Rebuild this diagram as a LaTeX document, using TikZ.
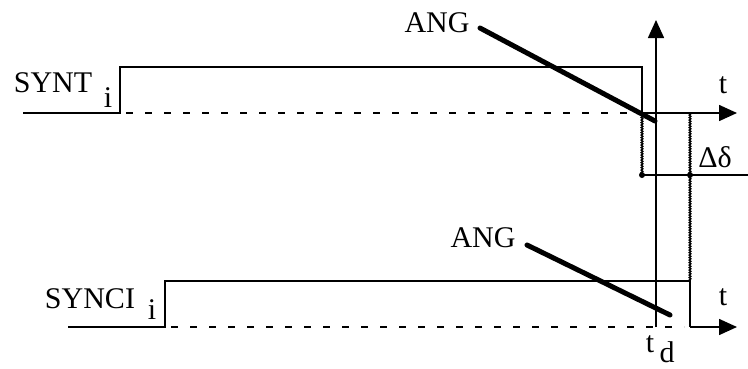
\documentclass[tikz,border=0pt]{standalone}
\usepackage{fontspec}
\setmainfont{Liberation Serif}
\usetikzlibrary{arrows.meta,decorations.pathmorphing}

\tikzset{
  signal/.style={line width=1.6pt},
  base/.style={line width=1.6pt, dash pattern=on 7pt off 12pt},
  edge/.style={line width=1.5pt, decorate,
    decoration={snake, amplitude=0.7pt, segment length=2.5pt}},
  angline/.style={line width=5pt, line cap=round},
  axis/.style={line width=1.6pt, -{Triangle[length=18pt,width=16pt]}},
  lbl/.style={font=\fontsize{30}{36}\selectfont, inner sep=0pt},
}

\begin{document}
\begin{tikzpicture}[x=1pt, y=-1pt]
        \useasboundingbox (0,0) rectangle (748,368);

        % Schluesselpunkte
        \coordinate (td) at (656,327);
        \coordinate (tdtop) at (656,20);
        \coordinate (fallA) at (642,113);
        \coordinate (fallB) at (690,327);
        \coordinate (dotA) at (642,175);
        \coordinate (dotB) at (690,175);

        % SYNT_i
        \draw[signal] (23,113) -- (120,113) -- (120,67) -- (642,67) -- (fallA);
        \draw[base] (126,113) -- (638,113);
        \draw[axis] (fallA) -- (737,113);
        \draw[edge] (fallA) -- (dotA);
        \node[lbl] (synt) at (53,83) {SYNT};
        \node[lbl] (synti) at (108,98) {i};

        % SYNCI_i
        \draw[signal] (68,327) -- (165,327) -- (165,281) -- (690,281) -- (fallB);
        \draw[base] (171,327) -- (684,327);
        \draw[axis] (fallB) -- (737,327);
        \node[lbl] (synci) at (90,299) {SYNCI};
        \node[lbl] (syncii) at (152,310) {i};

        % Zeitachse bei t_d
        \draw[axis] (td) -- (tdtop);
        \node[lbl] (tlbl) at (650,344) {t};
        \node[lbl] (dlbl) at (667,352) {d};

        % Verschiebung Delta delta
        \draw[signal] (dotA) -- (748,175);
        \draw[edge] (690,113) -- (690,281);
        \fill (dotA) circle (3pt);
        \fill (dotB) circle (3pt);
        \node[lbl] (delta) at (715,157) {Δδ};

        % ANG Rampen
        \node[lbl] (angA) at (437,23) {ANG};
        \draw[angline] (480,28) -- (655,121);
        \node[lbl] (angB) at (483,238) {ANG};
        \draw[angline] (527,245) -- (670,315);

        \node[lbl] (tA) at (723,85) {t};
        \node[lbl] (tB) at (723,297) {t};

    \end{tikzpicture}
\end{document}
